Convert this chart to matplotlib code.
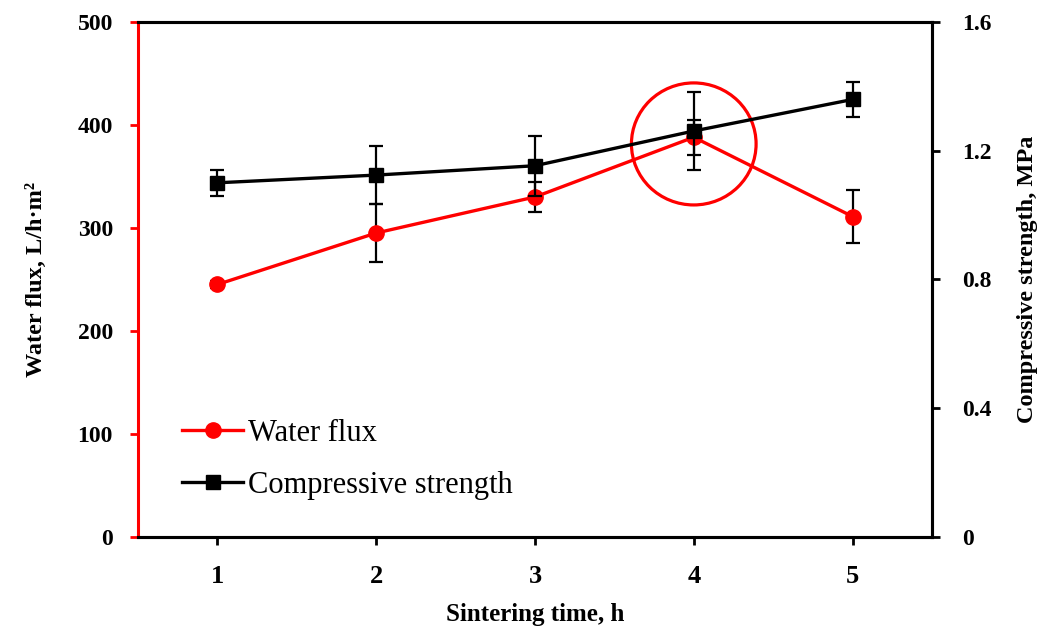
import numpy as np
import matplotlib
matplotlib.use("Agg")
import matplotlib.pyplot as plt
from matplotlib.patches import Ellipse
from matplotlib.lines import Line2D

plt.rcParams['font.family'] = ['Liberation Serif', 'DejaVu Serif']

# data
time_h = [1, 2, 3, 4, 5]
flux = [245, 295, 330, 388, 311]
flux_err = [3, 28, 15, 17, 26]
strength = [1.10, 1.124, 1.153, 1.261, 1.359]
strength_err = [0.04, 0.09, 0.093, 0.12, 0.054]

fig = plt.figure(figsize=(10.42, 6.33), dpi=100)
ax = fig.add_axes([0.1324, 0.152, 0.762, 0.8134])
ax2 = ax.twinx()

ax.errorbar(time_h, flux, yerr=flux_err, color="red", marker="o", markersize=11,
            linewidth=2.4, ecolor="black", elinewidth=1.6, capsize=4.7, capthick=1.6)
ax2.errorbar(time_h, strength, yerr=strength_err, color="black", marker="s", markersize=10,
             linewidth=2.4, ecolor="black", elinewidth=1.6, capsize=4.7, capthick=1.6)

# highlight circle around point 4
ax.add_patch(Ellipse((4.0, 381.5), 0.785, 118.5, fill=False, edgecolor="red", linewidth=2.3, zorder=5))

ax.set_xlim(0.5, 5.5)
ax.set_ylim(0, 500)
ax2.set_ylim(0, 1.6)
ax.set_xticks(time_h)
ax.set_yticks(np.arange(0, 501, 100))
ax2.set_yticks([0, 0.4, 0.8, 1.2, 1.6])
ax2.set_yticklabels(["0", "0.4", "0.8", "1.2", "1.6"])

for a in (ax, ax2):
    for s in a.spines.values():
        s.set_linewidth(2.2)
        s.set_color("black")
ax.spines["left"].set_color("red")
ax2.spines["left"].set_visible(False)

ax.tick_params(axis="y", colors="red", labelcolor="black", width=2, length=6, labelsize=17, pad=12)
ax.tick_params(axis="x", width=2, length=6, labelsize=19, pad=14)
ax2.tick_params(axis="y", width=2, length=6, labelsize=17, pad=16)
for lab in ax.get_xticklabels() + ax.get_yticklabels() + ax2.get_yticklabels():
    lab.set_fontweight("bold")

ax.set_xlabel("Sintering time, h", fontsize=18, fontweight="bold", labelpad=11)
ax.set_ylabel("Water flux, L/h·m²", fontsize=17.5, fontweight="bold", labelpad=22)
ax2.set_ylabel("Compressive strength, MPa", fontsize=17.5, fontweight="bold", labelpad=18)

h1 = Line2D([], [], color="red", marker="o", markersize=11, linewidth=2.4)
h2 = Line2D([], [], color="black", marker="s", markersize=10, linewidth=2.4)
ax2.legend([h1, h2], ["Water flux", "Compressive strength"], loc="lower left",
           bbox_to_anchor=(0.021, 0.018), frameon=False, fontsize=22,
           handlelength=2.0, handletextpad=0.15, labelspacing=0.75)

fig.savefig("out.png", dpi=100)
